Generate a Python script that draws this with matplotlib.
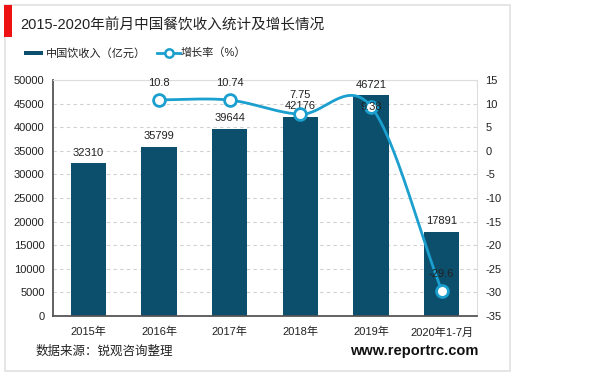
import matplotlib
matplotlib.use("Agg")
import matplotlib.pyplot as plt
from matplotlib.patches import Rectangle
from matplotlib.lines import Line2D
import numpy as np

plt.rcParams['font.family'] = ['Liberation Sans', 'Noto Sans CJK SC', 'DejaVu Sans']
plt.rcParams['axes.unicode_minus'] = False

categories = ["2015年", "2016年", "2017年", "2018年", "2019年", "2020年1-7月"]
revenue = [32310, 35799, 39644, 42176, 46721, 17891]
growth_cats = [1, 2, 3, 4, 5]
growth = [10.8, 10.74, 7.75, 9.38, -29.6]
growth_labels = ["10.8", "10.74", "7.75", "9.38", "-29.6"]

W, H = 600, 377
fig = plt.figure(figsize=(6, 3.77), dpi=100)

def fx(x): return x / W
def fy(y): return 1 - y / H

# panel border and red accent
fig.patches.append(Rectangle((fx(5), fy(371)), fx(510) - fx(5), fy(5) - fy(371),
                             transform=fig.transFigure, fill=False, edgecolor='#e0e0e0', lw=1.2))
fig.patches.append(Rectangle((fx(4), fy(37)), fx(12) - fx(4), fy(5) - fy(37),
                             transform=fig.transFigure, facecolor='#ee1111', edgecolor='none'))

fig.text(fx(20), fy(25), "2015-2020年前月中国餐饮收入统计及增长情况", fontsize=10.5,
         va='center', ha='left', color='#222222')

ax = fig.add_axes([fx(53), fy(316), fx(477) - fx(53), fy(80) - fy(316)])
bar_color = '#0c4f6c'
line_color = '#1a9fce'
x = np.arange(len(categories))
ax.bar(x, revenue, width=0.5, color=bar_color, zorder=2)
ax.set_xlim(-0.5, len(categories) - 0.5)
ax.set_ylim(0, 50000)
ax.set_yticks(np.arange(0, 50001, 5000))
ax.set_xticks(x)
ax.set_xticklabels(categories)
ax.tick_params(axis='both', length=0, labelsize=8, colors='#222222')
ax.tick_params(axis='x', pad=8)
ax.tick_params(axis='y', pad=6)
ax.grid(axis='y', linestyle=(0, (3, 3)), color='#d0d0d0', lw=0.8, zorder=0)
for s in ['left', 'bottom']:
    ax.spines[s].set_color('#555555')
    ax.spines[s].set_linewidth(1.3)
for s in ['top', 'right']:
    ax.spines[s].set_color('#dddddd')
    ax.spines[s].set_linewidth(0.8)
for xi, v in zip(x, revenue):
    ax.annotate(str(v), (xi, v), xytext=(0, 4), textcoords='offset points',
                ha='center', va='bottom', fontsize=8, color='#222222', zorder=5)

ax2 = ax.twinx()
ax2.set_ylim(-35, 15)
ax2.set_yticks(np.arange(-35, 16, 5))
ax2.tick_params(axis='y', length=0, labelsize=8, colors='#222222', pad=6)
for s in ax2.spines.values():
    s.set_visible(False)

# smooth curve (Catmull-Rom) through the growth points
px = np.array(growth_cats, dtype=float)
py = np.array(growth, dtype=float)
n = len(px)
m = np.zeros(n)
for i in range(n):
    if i == 0:
        m[i] = (py[1] - py[0]) / (px[1] - px[0])
    elif i == n - 1:
        m[i] = (py[-1] - py[-2]) / (px[-1] - px[-2])
    else:
        m[i] = (py[i + 1] - py[i - 1]) / (px[i + 1] - px[i - 1])
cx, cy = [], []
for i in range(n - 1):
    t = np.linspace(0, 1, 40)
    h = px[i + 1] - px[i]
    h00 = 2 * t**3 - 3 * t**2 + 1
    h10 = t**3 - 2 * t**2 + t
    h01 = -2 * t**3 + 3 * t**2
    h11 = t**3 - t**2
    cy.extend(h00 * py[i] + h10 * h * m[i] + h01 * py[i + 1] + h11 * h * m[i + 1])
    cx.extend(px[i] + t * h)
ax2.plot(cx, cy, color=line_color, lw=2.0, zorder=3, solid_capstyle='round')
ax2.plot(px, py, linestyle='none', marker='o', markersize=8.5, markerfacecolor='white',
         markeredgecolor=line_color, markeredgewidth=2.0, zorder=4)
offsets = [12, 12, 14, 0, 12]
for xi, v, lab, off in zip(px, py, growth_labels, offsets):
    ax2.annotate(lab, (xi, v), xytext=(0, off), textcoords='offset points',
                 ha='center', va='center', fontsize=8, color='#222222', zorder=6)

# legend
fig.patches.append(Rectangle((fx(24), fy(55)), fx(43) - fx(24), fy(51) - fy(55),
                             transform=fig.transFigure, facecolor=bar_color, edgecolor='none'))
fig.text(fx(46), fy(53), "中国饮收入（亿元）", fontsize=8, va='center', ha='left', color='#222222')
fig.lines.append(Line2D([fx(157), fx(180)], [fy(53), fy(53)], transform=fig.transFigure,
                        color=line_color, lw=2.0))
fig.lines.append(Line2D([fx(168.5)], [fy(53)], transform=fig.transFigure, marker='o',
                        markersize=6, markerfacecolor='white', markeredgecolor=line_color,
                        markeredgewidth=1.8, linestyle='none'))
fig.text(fx(181), fy(53), "增长率（%）", fontsize=8, va='center', ha='left', color='#222222')

# footer
fig.text(fx(36), fy(352), "数据来源：锐观咨询整理", fontsize=9, va='center', ha='left', color='#222222')
fig.text(fx(478), fy(351), "www.reportrc.com", fontsize=10.5, fontweight='bold',
         family='Liberation Sans', va='center', ha='right', color='#111111')

fig.savefig("out.png", dpi=100)
